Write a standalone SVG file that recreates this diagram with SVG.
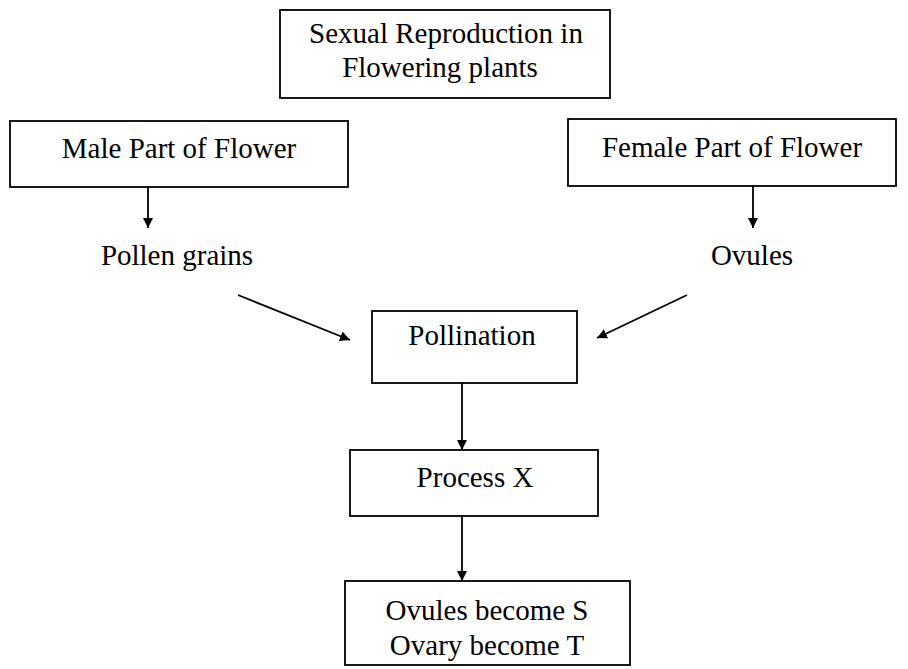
<svg xmlns="http://www.w3.org/2000/svg" width="908" height="669" viewBox="0 0 908 669">
<defs>
<style>
.box{fill:none;stroke:#000;stroke-width:1.8}
.t{font-family:"Liberation Serif","Times New Roman",serif;font-size:29px;fill:#000;text-anchor:middle}
.c{stroke:#000;stroke-width:1.8;fill:none}
</style>
<marker id="ah" viewBox="0 0 10 10" refX="10" refY="5" markerWidth="10" markerHeight="10" markerUnits="userSpaceOnUse" orient="auto">
<path d="M0,0 L10,5 L0,10 Z" fill="#000"/>
</marker>
</defs>
<rect width="908" height="669" fill="#fff"/>
<g id="top">
<rect class="box" x="280" y="10" width="330" height="88"/>
<text class="t" x="446" y="43">Sexual Reproduction in</text>
<text class="t" x="440" y="77">Flowering plants</text>
</g>
<g id="male">
<rect class="box" x="10" y="121" width="338" height="66"/>
<text class="t" x="179" y="158">Male Part of Flower</text>
</g>
<g id="female">
<rect class="box" x="568" y="119" width="328" height="67"/>
<text class="t" x="732" y="157">Female Part of Flower</text>
</g>
<g id="pollen">
<text class="t" x="177" y="265">Pollen grains</text>
</g>
<g id="ovules">
<text class="t" x="752" y="265">Ovules</text>
</g>
<g id="pollination">
<rect class="box" x="372" y="311" width="205" height="72"/>
<text class="t" x="472" y="345">Pollination</text>
</g>
<g id="processx">
<rect class="box" x="350" y="450" width="248" height="66"/>
<text class="t" x="475" y="487">Process X</text>
</g>
<g id="result">
<rect class="box" x="345" y="581" width="285" height="84"/>
<text class="t" x="487" y="620">Ovules become S</text>
<text class="t" x="487" y="655">Ovary become T</text>
</g>
<g id="connectors">
<line class="c" x1="148" y1="187" x2="148" y2="228" marker-end="url(#ah)"/>
<line class="c" x1="753" y1="186" x2="753" y2="228" marker-end="url(#ah)"/>
<line class="c" x1="238" y1="295" x2="350" y2="340" marker-end="url(#ah)"/>
<line class="c" x1="687" y1="295" x2="597" y2="338" marker-end="url(#ah)"/>
<line class="c" x1="462" y1="383" x2="462" y2="450" marker-end="url(#ah)"/>
<line class="c" x1="462" y1="516" x2="462" y2="581" marker-end="url(#ah)"/>
</g>
</svg>
